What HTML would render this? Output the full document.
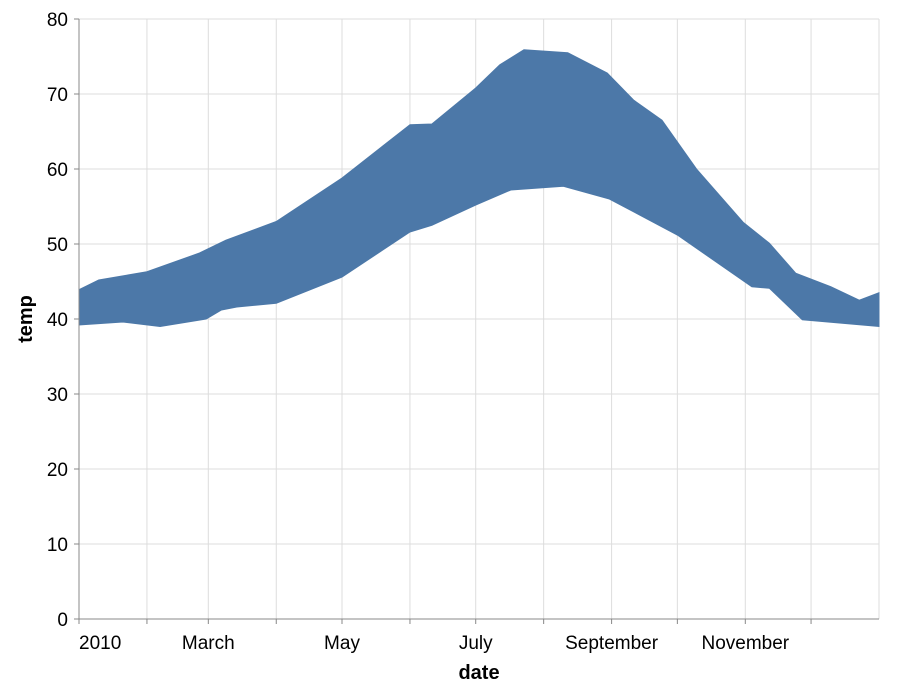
<!DOCTYPE html>
<html><head><meta charset="utf-8"><style>
body{margin:0;background:#fff;}
svg text{font-family:"Liberation Sans",sans-serif;}
</style></head><body>
<svg id="chart" width="898" height="694">
<g id="grid"></g>
<path id="band" fill="#4c78a8" stroke="#4c78a8" stroke-width="1"></path>
<g id="axes"></g>
<text x="32" y="319" transform="rotate(-90 32 319)" text-anchor="middle" font-size="20" font-weight="bold">temp</text>
<text x="479" y="679" text-anchor="middle" font-size="20" font-weight="bold">date</text>
</svg>
<script>
const topDays=[0,9,31,55,67,90,120,151,161,181,192,203,223,241,253,266,282,303,315,327,343,356,365];
const maxT=[43.9,45.2,46.3,48.8,50.5,53,58.8,65.9,66,70.8,73.9,75.9,75.5,72.8,69.2,66.5,59.9,52.9,50.1,46.1,44.3,42.5,43.5];
const botDays=[0,20,37,58,65,72,90,120,151,161,181,197,221,242,273,307,315,330,365];
const minT=[39.2,39.6,39,40,41.2,41.6,42.1,45.6,51.6,52.5,55.2,57.2,57.7,56,51.2,44.3,44.1,39.9,39];
const yTicks=[0,10,20,30,40,50,60,70,80];
const monthStarts=[0,31,59,90,120,151,181,212,243,273,304,334];
const monthLabels=["2010","","March","","May","","July","","September","","November",""];
const X0=79,X1=879,Y0=619,Y1=19;
const x=d=>X0+d/365*(X1-X0);
const y=v=>Y0-v/80*(Y0-Y1);
const NS="http://www.w3.org/2000/svg";
const grid=document.getElementById('grid'),axes=document.getElementById('axes');
function mk(tag,attrs,parent){const e=document.createElementNS(NS,tag);for(const k in attrs)e.setAttribute(k,attrs[k]);parent.appendChild(e);return e;}
yTicks.forEach(t=>{
 const g=mk('line',{x1:X0,x2:X1,y1:y(t),y2:y(t),stroke:'#ddd'},grid);
 
 
 mk('line',{x1:X0-5,x2:X0,y1:y(t),y2:y(t),stroke:'#888'},axes);
 const tx=mk('text',{x:X0-11,y:y(t)+7,'text-anchor':'end','font-size':'19',fill:'#000'},axes);
 tx.textContent=t;
 
 
});
monthStarts.forEach((d,i)=>{
 const g=mk('line',{x1:x(d),x2:x(d),y1:Y1,y2:Y0,stroke:'#ddd'},grid);
 
 
 mk('line',{x1:x(d),x2:x(d),y1:Y0,y2:Y0+5,stroke:'#888'},axes);
 if(monthLabels[i]){
  const tx=mk('text',{x:x(d),y:Y0+30,'text-anchor':i==0?'start':'middle','font-size':'19',fill:'#000'},axes);
  tx.textContent=monthLabels[i];
  
  
 }
});
mk('line',{x1:X0,x2:X0,y1:Y1,y2:Y0,stroke:'#888'},axes);
mk('line',{x1:X0,x2:X1,y1:Y0,y2:Y0,stroke:'#888'},axes);
mk('line',{x1:X1,x2:X1,y1:Y1,y2:Y0,stroke:'#ddd'},grid);
let p='M'+topDays.map((d,i)=>x(d)+','+y(maxT[i])).join('L');
for(let i=botDays.length-1;i>=0;i--)p+='L'+x(botDays[i])+','+y(minT[i]);
document.getElementById('band').setAttribute('d',p+'Z');
</script>
</body></html>
